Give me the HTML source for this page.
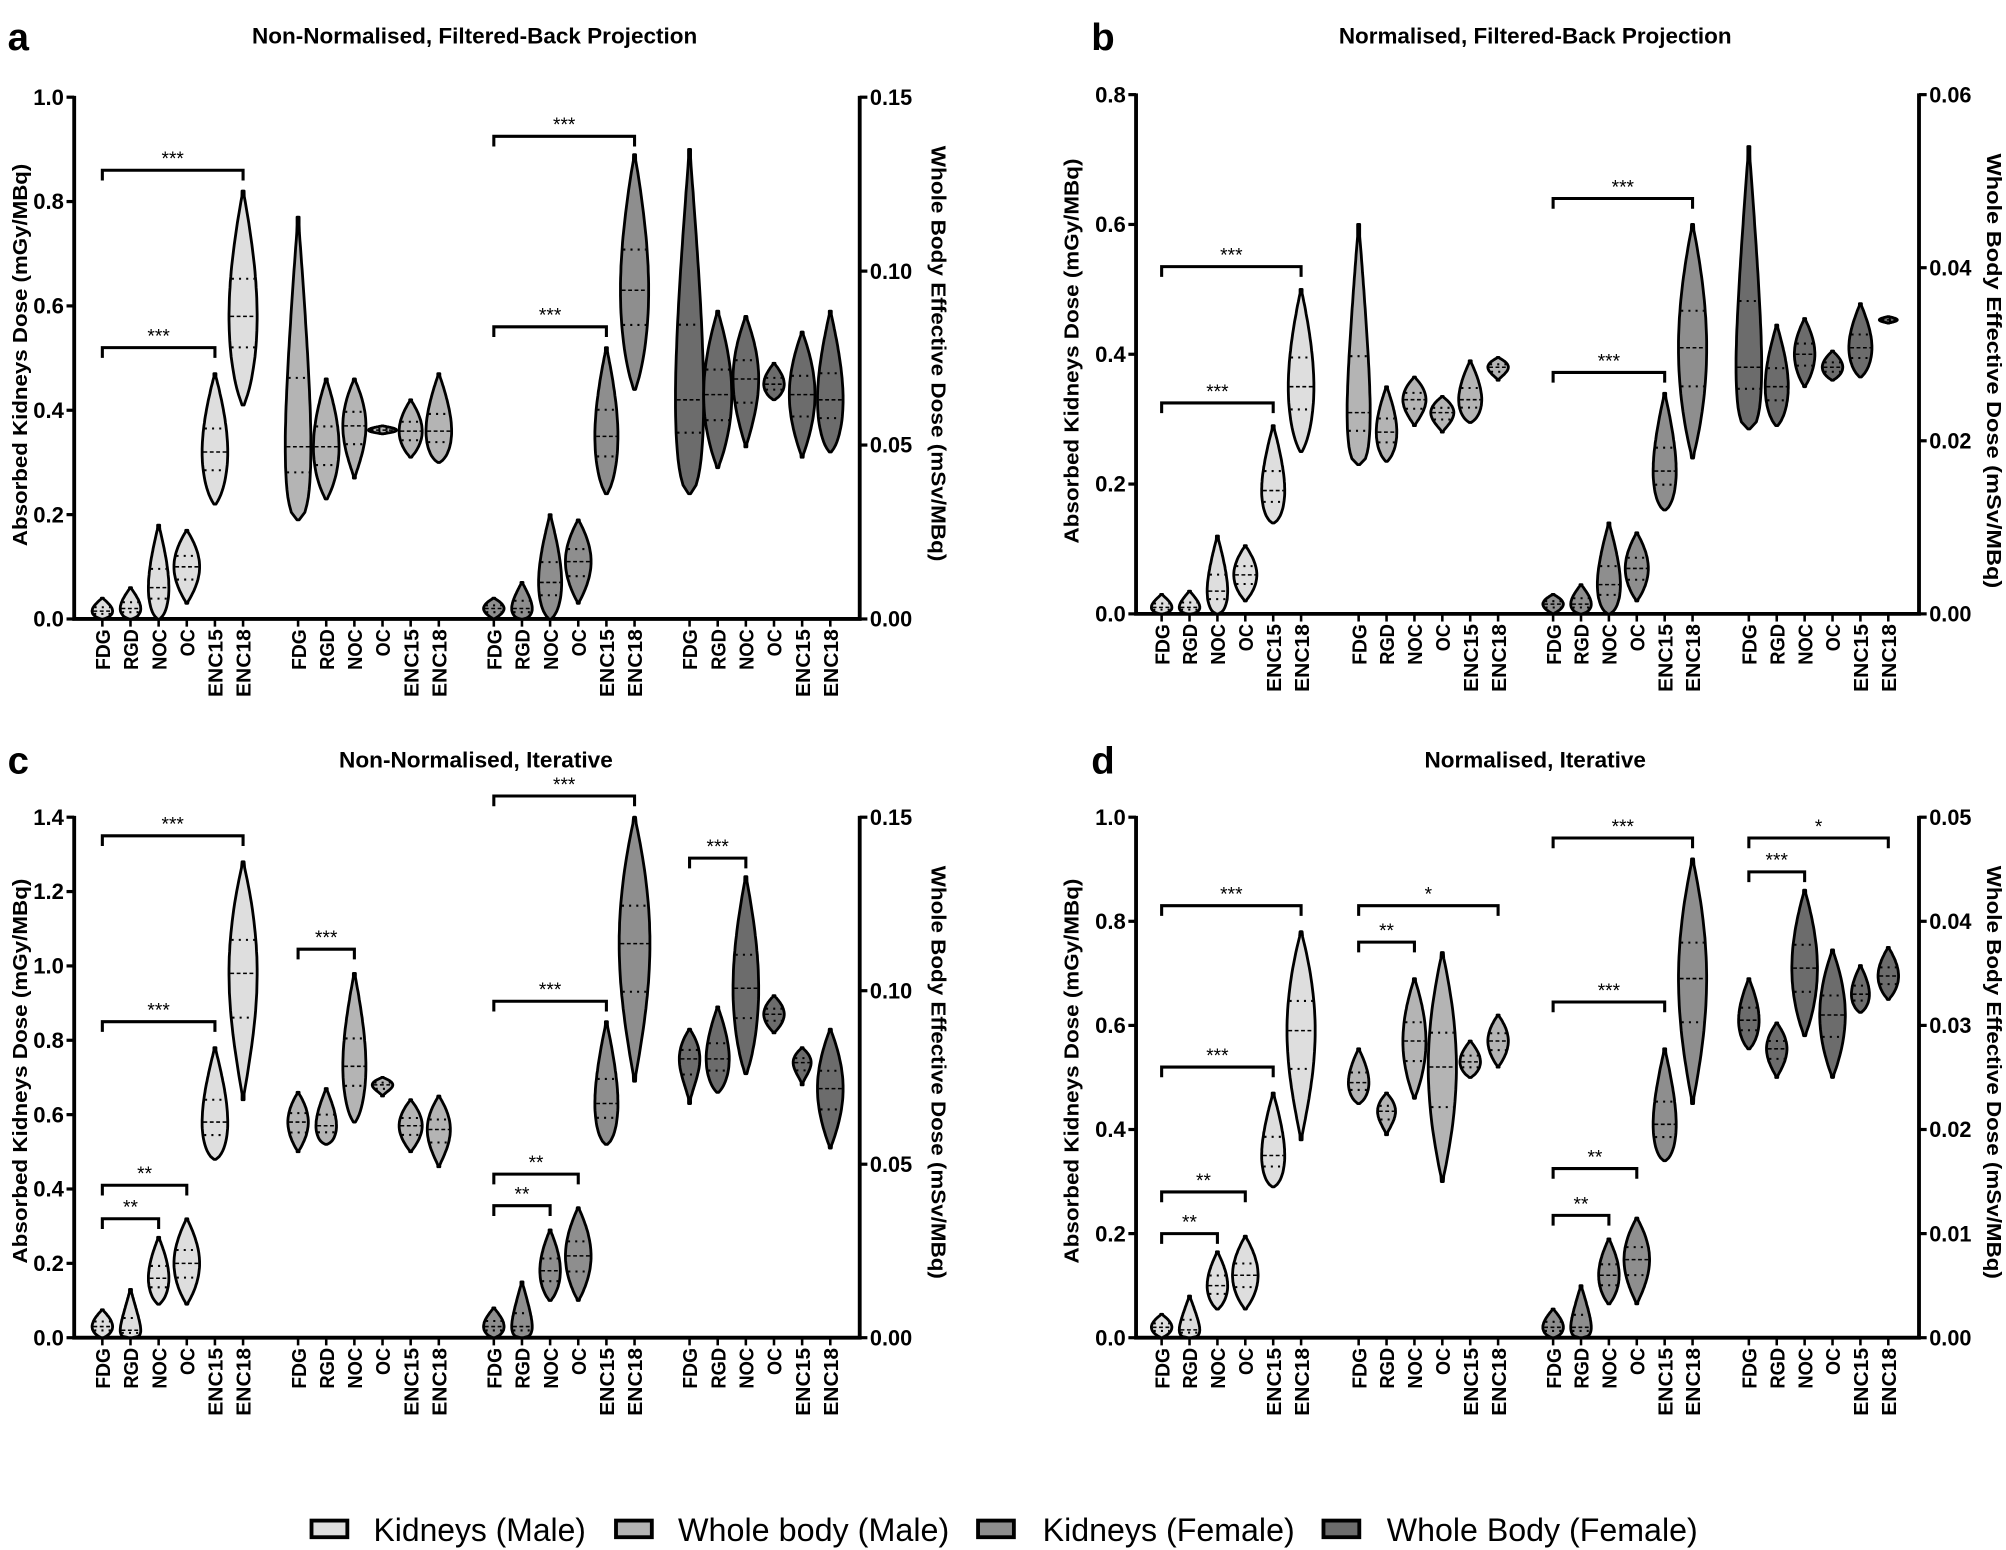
<!DOCTYPE html>
<html><head><meta charset="utf-8"><style>
html,body{margin:0;padding:0;background:#fff}
svg{display:block}
text{font-family:"Liberation Sans",Arial,sans-serif}
</style></head><body>
<svg id="s" xmlns="http://www.w3.org/2000/svg" width="2006" height="1550" viewBox="0 0 1568 1212" preserveAspectRatio="none">
<rect width="1568" height="1212" fill="#fff"/>
<g id="g"></g>
</svg>
<script>
var out=[];
function T(x,y,s,o){o=o||{};out.push('<text x="'+x+'" y="'+y+'" font-size="'+(o.fs||14)+'"'+(o.b?' font-weight="bold"':'')+(o.a?' text-anchor="'+o.a+'"':'')+(o.tl?' textLength="'+o.tl+'" lengthAdjust="spacingAndGlyphs"':'')+(o.r!==undefined?' transform="rotate('+o.r+' '+x+' '+y+')"':'')+'>'+s+'</text>');}
var cols=['#dedede','#b4b4b4','#8e8e8e','#6c6c6c'];
function violin(cx,Y,d,col){
 var mn=d[0],mx=d[1],md=d[2],W=d[3];
 var tm=(md-mn)/(mx-mn);tm=Math.min(Math.max(tm,0.05),0.95);
 var p=Math.log(0.5)/Math.log(tm);
 function w(v){var t=(v-mn)/(mx-mn);if(t<=0||t>=1)return 0.8;var s=Math.pow(t,p);return Math.max(0.8,W*Math.pow(Math.sin(Math.PI*s),0.9));}
 var L=[],R=[],N=40;
 for(var i=0;i<=N;i++){var v=mn+(mx-mn)*i/N;var y=Y(v),ww=w(v);L.push((cx-ww).toFixed(1)+','+y.toFixed(1));R.unshift((cx+ww).toFixed(1)+','+y.toFixed(1));}
 out.push('<path d="M'+L.join(' L')+' L'+R.join(' L')+'Z" fill="'+col+'" stroke="#000" stroke-width="2.2" stroke-linejoin="round"/>');
 var q1=md-(md-mn)*0.35,q3=md+(mx-md)*0.3;
 var wm=w(md);out.push('<line x1="'+(cx-wm+1)+'" x2="'+(cx+wm-1)+'" y1="'+Y(md)+'" y2="'+Y(md)+'" stroke="#000" stroke-width="1.2" stroke-dasharray="3,2"/>');
 [q1,q3].forEach(function(q){var wq=w(q);out.push('<line x1="'+(cx-wq+1)+'" x2="'+(cx+wq-1)+'" y1="'+Y(q)+'" y2="'+Y(q)+'" stroke="#000" stroke-width="1.6" stroke-dasharray="1.6,4"/>');});
}
var labs=['FDG','RGD','NOC','OC','ENC15','ENC18'];
function panel(P){
 var top=P.top,bot=P.bot,lx=P.lx,rx=P.rx,vm=P.vmax;
 function Y(v){return bot-v/vm*(bot-top);}
 out.push('<path d="M'+lx+','+(top-1)+' L'+lx+','+bot+' L'+rx+','+bot+' L'+rx+','+(top-1)+'" fill="none" stroke="#000" stroke-width="3"/>');
 P.lt.forEach(function(t){var y=Y(t);out.push('<line x1="'+(lx-6)+'" x2="'+lx+'" y1="'+y+'" y2="'+y+'" stroke="#000" stroke-width="2.5"/>');T(lx-8,y+6,t.toFixed(1),{fs:17,b:1,a:'end',tl:24});});
 P.rt.forEach(function(t,i){var y=bot-i/(P.rt.length-1)*(bot-top);out.push('<line x1="'+rx+'" x2="'+(rx+6)+'" y1="'+y+'" y2="'+y+'" stroke="#000" stroke-width="2.5"/>');T(rx+8,y+6,t,{fs:17,b:1,tl:33});});
 for(var g=0;g<4;g++){for(var k=0;k<6;k++){var cx=P.gx[g]+k*P.st;
  out.push('<line x1="'+cx+'" x2="'+cx+'" y1="'+bot+'" y2="'+(bot+6)+'" stroke="#000" stroke-width="2"/>');
  var lb=labs[k];T(cx+6,bot+8,lb,{fs:16,b:1,a:'end',r:-90,tl:lb.length*10.6});
  var d=P.data[g][k];if(d)violin(cx,Y,d,cols[g]);}}
 P.br.forEach(function(b){var g=b[0],a=b[1],c=b[2],v=b[3];var x1=P.gx[g]+a*P.st,x2=P.gx[g]+c*P.st,y=Y(v);
  out.push('<path d="M'+x1+','+(y+8)+' L'+x1+','+y+' L'+x2+','+y+' L'+x2+','+(y+8)+'" fill="none" stroke="#000" stroke-width="2.4"/>');
  T((x1+x2)/2,y-4,b[4],{fs:15,a:'middle'});});
 T(P.ltx,(P.lt0+P.lt1)/2,'Absorbed Kidneys Dose (mGy/MBq)',{fs:16,b:1,a:'middle',r:-90,tl:P.lt1-P.lt0});
 T(P.rtx,(P.rt0+P.rt1)/2,'Whole Body Effective Dose (mSv/MBq)',{fs:16,b:1,a:'middle',r:90,tl:P.rt1-P.rt0});
 T(P.tcx,P.ty,P.title,{fs:17,b:1,a:'middle',tl:P.tl});
 T(P.lex,P.ty+5,P.letter,{fs:30,b:1});
}
var gxL=[80,233,386,539],gxR=[908,1062,1214,1367];
panel({top:76,bot:484,lx:58,rx:672,vmax:1.0,lt:[0,0.2,0.4,0.6,0.8,1.0],rt:['0.00','0.05','0.10','0.15'],gx:gxL,st:22,
 data:[[[0,0.04,0.015,8],[0,0.06,0.02,8],[0,0.18,0.06,8],[0.03,0.17,0.10,10],[0.22,0.47,0.32,10],[0.41,0.82,0.58,11]],
 [[0.19,0.77,0.33,10],[0.23,0.46,0.33,10],[0.27,0.46,0.37,9],[0.355,0.37,0.362,11],[0.31,0.42,0.36,9],[0.30,0.47,0.36,10]],
 [[0,0.04,0.02,8],[0,0.07,0.02,8],[0,0.2,0.07,9],[0.03,0.19,0.11,10],[0.24,0.52,0.35,9],[0.44,0.89,0.63,11]],
 [[0.24,0.9,0.42,11],[0.29,0.59,0.43,11],[0.33,0.58,0.46,10],[0.42,0.49,0.45,8],[0.31,0.55,0.43,10],[0.32,0.59,0.42,10]]],
 br:[[0,0,5,0.86,'***'],[0,0,4,0.52,'***'],[2,0,5,0.925,'***'],[2,0,4,0.56,'***']],
 ltx:21,lt0:128,lt1:427,rtx:728,rt0:114,rt1:439,tcx:371,ty:34,tl:348,title:'Non-Normalised, Filtered-Back Projection',lex:6,letter:'a'});
panel({top:74,bot:480,lx:888,rx:1500,vmax:0.8,lt:[0,0.2,0.4,0.6,0.8],rt:['0.00','0.02','0.04','0.06'],gx:gxR,st:21.8,
 data:[[[0,0.03,0.01,8],[0,0.035,0.01,8],[0,0.12,0.035,8],[0.02,0.105,0.06,9],[0.14,0.29,0.19,9],[0.25,0.5,0.35,10]],
 [[0.23,0.6,0.31,9],[0.235,0.35,0.28,8],[0.29,0.365,0.33,9],[0.28,0.335,0.31,9],[0.295,0.39,0.33,9],[0.36,0.395,0.38,8]],
 [[0,0.03,0.015,8],[0,0.045,0.015,8],[0,0.14,0.045,9],[0.02,0.125,0.07,9],[0.16,0.34,0.22,9],[0.24,0.6,0.41,11]],
 [[0.285,0.72,0.38,10],[0.29,0.445,0.35,9],[0.35,0.455,0.40,8],[0.36,0.405,0.38,8],[0.365,0.478,0.41,9],[0.448,0.458,0.453,7]]],
 br:[[0,0,5,0.535,'***'],[0,0,4,0.325,'***'],[2,0,5,0.64,'***'],[2,0,4,0.372,'***']],
 ltx:843,lt0:124,lt1:425,rtx:1553,rt0:120,rt1:460,tcx:1200,ty:34,tl:307,title:'Normalised, Filtered-Back Projection',lex:853,letter:'b'});
panel({top:639,bot:1046,lx:58,rx:672,vmax:1.4,lt:[0,0.2,0.4,0.6,0.8,1.0,1.2,1.4],rt:['0.00','0.05','0.10','0.15'],gx:gxL,st:22,
 data:[[[0,0.075,0.03,8],[0,0.13,0.02,8],[0.09,0.27,0.16,8],[0.09,0.32,0.2,10],[0.48,0.78,0.58,10],[0.64,1.28,0.98,11]],
 [[0.5,0.66,0.58,8],[0.52,0.67,0.57,8],[0.58,0.98,0.73,9],[0.65,0.7,0.68,8],[0.5,0.64,0.57,9],[0.46,0.65,0.56,9]],
 [[0,0.08,0.03,8],[0,0.15,0.03,8],[0.1,0.29,0.18,8],[0.1,0.35,0.22,10],[0.52,0.85,0.63,9],[0.69,1.4,1.06,12]],
 [[0.63,0.83,0.75,8],[0.66,0.89,0.75,9],[0.71,1.24,0.94,10],[0.82,0.92,0.87,8],[0.68,0.78,0.74,7],[0.51,0.83,0.67,10]]],
 br:[[0,0,5,1.35,'***'],[0,0,4,0.85,'***'],[0,0,3,0.41,'**'],[0,0,2,0.32,'**'],[1,0,2,1.045,'***'],[2,0,5,1.457,'***'],[2,0,4,0.905,'***'],[2,0,3,0.44,'**'],[2,0,2,0.355,'**'],[3,0,2,1.29,'***']],
 ltx:21,lt0:687,lt1:988,rtx:728,rt0:677,rt1:1000,tcx:372,ty:600,tl:214,title:'Non-Normalised, Iterative',lex:6,letter:'c'});
panel({top:639,bot:1046,lx:888,rx:1500,vmax:1.0,lt:[0,0.2,0.4,0.6,0.8,1.0],rt:['0.00','0.01','0.02','0.03','0.04','0.05'],gx:gxR,st:21.8,
 data:[[[0,0.045,0.02,8],[0,0.08,0.015,8],[0.055,0.165,0.1,8],[0.055,0.195,0.12,10],[0.29,0.47,0.35,9],[0.38,0.78,0.59,11]],
 [[0.45,0.555,0.49,8],[0.39,0.47,0.435,7],[0.46,0.69,0.57,9],[0.30,0.74,0.52,11],[0.5,0.57,0.53,8],[0.52,0.62,0.57,8]],
 [[0,0.055,0.02,8],[0,0.1,0.02,8],[0.065,0.19,0.12,8],[0.065,0.23,0.15,10],[0.34,0.555,0.41,9],[0.45,0.92,0.69,11]],
 [[0.555,0.69,0.61,8],[0.5,0.605,0.555,8],[0.58,0.86,0.71,10],[0.5,0.745,0.62,10],[0.625,0.715,0.66,7],[0.65,0.75,0.695,8]]],
 br:[[0,0,5,0.83,'***'],[0,0,4,0.52,'***'],[0,0,3,0.28,'**'],[0,0,2,0.20,'**'],[1,0,5,0.83,'*'],[1,0,2,0.76,'**'],[2,0,5,0.96,'***'],[2,0,4,0.645,'***'],[2,0,3,0.325,'**'],[2,0,2,0.235,'**'],[3,0,5,0.96,'*'],[3,0,2,0.895,'***']],
 ltx:843,lt0:687,lt1:988,rtx:1553,rt0:677,rt1:1000,tcx:1200,ty:600,tl:173,title:'Normalised, Iterative',lex:853,letter:'d'});
[[242,292,166,'Kidneys (Male)'],[480,530,212,'Whole body (Male)'],[763,815,197,'Kidneys (Female)'],[1033,1084,243,'Whole Body (Female)']].forEach(function(l,i){
 out.push('<rect x="'+(l[0]+1.5)+'" y="1189" width="28" height="13" fill="'+cols[i]+'" stroke="#000" stroke-width="3"/>');
 T(l[1],1205,l[3],{fs:25,tl:l[2]});
});
document.getElementById('g').innerHTML=out.join('');
</script>
</body></html>
